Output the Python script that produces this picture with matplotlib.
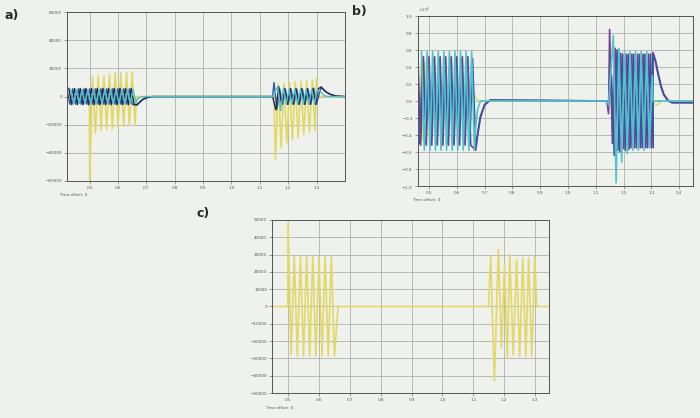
import matplotlib.pyplot as plt
import numpy as np
from matplotlib.ticker import ScalarFormatter

# colours
BG = "#eff1ed"
GRID = "#aeb0ad"
YELLOW = "#e2d868"
BLUE = "#3e50a2"
NAVY = "#20284c"
CYAN = "#4fc4ca"
PURPLE = "#7a3f8e"

HALF = 0.01  # half period of the 50 Hz waves, s

# ---------------- panel a ----------------
a_xticks = [0.5, 0.6, 0.7, 0.8, 0.9, 1, 1.1, 1.2, 1.3]
a_yticks = [-60000, -40000, -20000, 0, 20000, 40000, 60000]

a_yel_t = [0.42, 0.499, 0.5, 0.51, 0.52, 0.53, 0.54, 0.55, 0.56, 0.57, 0.58,
           0.59, 0.60, 0.61, 0.62, 0.63, 0.64, 0.65, 0.66, 0.665,
           1.15, 1.155, 1.165, 1.175, 1.185, 1.195, 1.205, 1.215, 1.225,
           1.235, 1.245, 1.255, 1.265, 1.275, 1.285, 1.295, 1.30, 1.305, 1.40]
a_yel_v = [0, 0, -60000, 14000, -26000, 15000, -24000, 14500, -23500, 16000,
           -23000, 17000, -22000, 17000, -21000, 17000, -20500, 17500, -20000, 0,
           0, -45000, 9000, -36000, 9500, -33000, 10000, -31000, 10500,
           -29000, 11000, -27000, 11500, -25500, 12000, -24000, 13000, 0, 0]

# three phase currents: block starts, zigzag extrema, decay tails
a_start1 = [0.42, 0.4267, 0.4333]
a_vals1 = [[5500, -5500] * 12, [5800, -5800] * 12, [5000, -5000] * 12]
a_tail1_t = [0.667, 0.675, 0.685, 0.70, 0.72, 1.145]
a_tail1_v = [[-6000, -4500, -2500, -900, 0, 0],
             [-5800, -4200, -2300, -800, 0, 0],
             [-2000, -800, -200, 0, 0, 0]]
a_start2 = [1.15, 1.1567, 1.1633]
a_vals2 = [[10000, -9000] + [5500, -5500] * 6 + [6000, -5500],
           [-9500, 7000] + [-5500, 5500] * 6 + [-5500, 5800],
           [7000, -10000, 6000] + [-5000, 5000] * 6]
a_tail2_t = [1.316, 1.325, 1.335, 1.35, 1.37, 1.40]
a_tail2_v = [[7000, 5000, 3200, 1500, 400, 0],
             [6500, 4800, 3000, 1400, 300, 0],
             [3000, 1000, 200, 0, 0, 0]]

# ---------------- panel b (x 10^5) ----------------
b_xticks = [0.5, 0.6, 0.7, 0.8, 0.9, 1, 1.1, 1.2, 1.3, 1.4]
b_yticks = [-1, -0.8, -0.6, -0.4, -0.2, 0, 0.2, 0.4, 0.6, 0.8, 1]
B_SCALE = 1e5

b_yel_t = [0.46, 0.465, 0.472, 0.478, 0.485, 0.49, 0.497, 0.50, 0.655, 0.662,
           0.67, 0.68, 1.30, 1.31, 1.32, 1.33, 1.34, 1.45]
b_yel_v = [0.46, -0.46, 0.46, -0.46, 0.46, -0.46, 0.2, 0, 0, 0.08,
           0.03, 0, 0, -0.03, -0.05, -0.02, 0, 0]

b_start1 = [0.46, 0.4667, 0.4733]
b_vals1 = [[0.52, -0.52] * 10, [-0.5, 0.5] * 10, [0.58, -0.58] * 10]
b_tail1_t = [0.668, 0.675, 0.685, 0.70, 0.72, 1.14, 1.146]
b_tail1_v = [[-0.58, -0.4, -0.2, -0.05, 0.01, 0, -0.15],
             [-0.55, -0.38, -0.18, -0.04, 0.01, 0, -0.05],
             [-0.3, -0.1, 0, 0, 0, 0, -0.05]]
b_start2 = [1.15, 1.1567, 1.1633]
b_vals2 = [[0.84, -0.5, 0.62, -0.58, 0.56, -0.56, 0.55, -0.57,
            0.55, -0.55, 0.55, -0.55, 0.55, -0.55, 0.55, -0.55],
           [0.3, -0.64, 0.6, -0.6, 0.55, -0.58, 0.55, -0.55,
            0.55, -0.55, 0.55, -0.55, 0.55, -0.55, 0.55, -0.55],
           [0.77, -0.96, 0.62, -0.72, 0.58, -0.62, 0.58, -0.58,
            0.58, -0.58, 0.58, -0.58, 0.58, -0.55, 0.3]]
b_tail2_t = [1.306, 1.315, 1.325, 1.335, 1.345, 1.36, 1.375, 1.45]
b_tail2_v = [[0.57, 0.48, 0.32, 0.18, 0.08, 0.01, -0.02, -0.02],
             [0.55, 0.46, 0.30, 0.16, 0.07, 0.0, -0.02, -0.02],
             [0, 0, 0, 0, 0, 0, 0, 0]]

# ---------------- panel c ----------------
c_xticks = [0.5, 0.6, 0.7, 0.8, 0.9, 1, 1.1, 1.2, 1.3]
c_yticks = [-50000, -40000, -30000, -20000, -10000, 0,
            10000, 20000, 30000, 40000, 50000]

c_yel_t = [0.448, 0.499, 0.50, 0.51, 0.52, 0.53, 0.54, 0.55, 0.56, 0.57, 0.58,
           0.59, 0.60, 0.61, 0.62, 0.63, 0.64, 0.65, 0.662,
           1.149, 1.156, 1.168, 1.181, 1.191, 1.201, 1.21, 1.218, 1.229, 1.240,
           1.25, 1.26, 1.27, 1.279, 1.289, 1.299, 1.305, 1.345]
c_yel_v = [0, 0, 48700, -27700, 29000, -28700, 29000, -28700, 29000, -28700,
           29000, -28700, 29000, -28700, 29000, -28700, 29000, -28700, 0,
           0, 29000, -43000, 33000, -24000, 24000, -30000, 30000, -28000, 27000,
           -29000, 28000, -29000, 28000, -29000, 29000, 0, 0]


def zigzag(t0, vals):
    return t0 + HALF * np.arange(len(vals)), np.asarray(vals, float)


def phase(k, start1, vals1, tail1_t, tail1_v, start2, vals2, tail2_t, tail2_v):
    parts = [zigzag(start1[k], vals1[k]), (tail1_t, tail1_v[k]),
             zigzag(start2[k], vals2[k]), (tail2_t, tail2_v[k])]
    t = np.concatenate([np.asarray(p[0], float) for p in parts])
    v = np.concatenate([np.asarray(p[1], float) for p in parts])
    return t, v


def style(ax, xticks, yticks, xlim, ylim):
    ax.set_facecolor(BG)
    ax.set_xlim(*xlim)
    ax.set_ylim(*ylim)
    ax.set_xticks(xticks)
    ax.set_yticks(yticks)
    ax.grid(True, color=GRID, lw=0.6)
    ax.set_axisbelow(True)
    ax.tick_params(labelsize=3, colors="#555555", length=2, width=0.4, pad=1.5)
    for s in ax.spines.values():
        s.set_color("#555555")
        s.set_linewidth(0.7)


fig = plt.figure(figsize=(7, 4.18), dpi=100, facecolor=BG)

# a)
ax_a = fig.add_axes([0.0957, 0.567, 0.397, 0.404])
style(ax_a, a_xticks, a_yticks, (0.42, 1.40), (-60000, 60000))
ax_a.plot(a_yel_t, a_yel_v, color=YELLOW, lw=1.2)
for k, c in enumerate([BLUE, NAVY, CYAN]):
    t, v = phase(k, a_start1, a_vals1, a_tail1_t, a_tail1_v,
                 a_start2, a_vals2, a_tail2_t, a_tail2_v)
    ax_a.plot(t, v, color=c, lw=1.0)

# b)
ax_b = fig.add_axes([0.597, 0.555, 0.393, 0.407])
style(ax_b, b_xticks, np.array(b_yticks) * B_SCALE, (0.46, 1.45), (-B_SCALE, B_SCALE))
ax_b.plot(b_yel_t, np.array(b_yel_v) * B_SCALE, color=YELLOW, lw=1.1)
for k, c in enumerate([PURPLE, BLUE, CYAN]):
    t, v = phase(k, b_start1, b_vals1, b_tail1_t, b_tail1_v,
                 b_start2, b_vals2, b_tail2_t, b_tail2_v)
    ax_b.plot(t, v * B_SCALE, color=c, lw=1.2)
fmt = ScalarFormatter(useMathText=True)
fmt.set_powerlimits((0, 0))
ax_b.yaxis.set_major_formatter(fmt)
ax_b.yaxis.get_offset_text().set_fontsize(3)
ax_b.yaxis.get_offset_text().set_color("#555555")

# c)
ax_c = fig.add_axes([0.3886, 0.0598, 0.3957, 0.4139])
style(ax_c, c_xticks, c_yticks, (0.448, 1.345), (-50000, 50000))
ax_c.plot(c_yel_t, c_yel_v, color=YELLOW, lw=1.2)

# labels
for x, y, s in [(0.006, 0.955, "a)"), (0.503, 0.965, "b)"), (0.281, 0.48, "c)")]:
    fig.text(x, y, s, fontsize=9, fontweight="bold", color="#2a2a2a")
for x, y in [(0.084, 0.53), (0.588, 0.518), (0.378, 0.022)]:
    fig.text(x, y, "Time offset: 0", fontsize=3, color="#555555")

fig.savefig("out.png", dpi=100, facecolor=BG)
